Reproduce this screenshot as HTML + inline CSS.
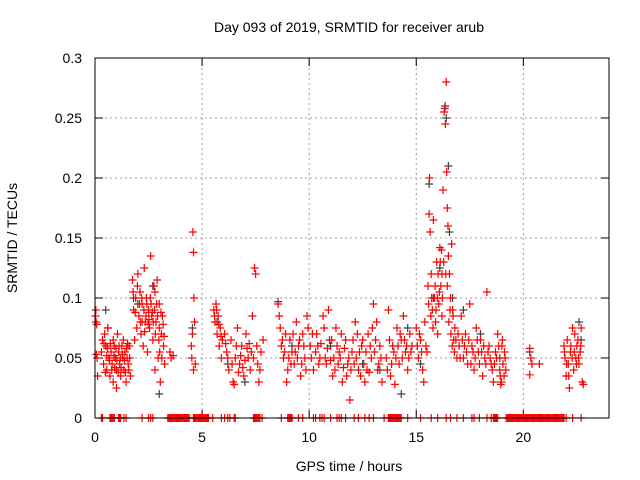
<!DOCTYPE html>
<html><head><meta charset="utf-8"><style>
body{margin:0;background:#fff;}
svg{display:block;font-family:"Liberation Sans",sans-serif;}
</style></head><body>
<svg id="c" width="640" height="480"></svg>
<script>
const redT=[0.02,0.05,0.08,0.1,0.12,0.06,
0.35,0.4,0.45,0.5,0.55,0.6,0.65,0.7,0.75,0.8,0.85,0.9,0.95,1.0,1.05,1.1,1.15,1.2,1.25,1.3,1.35,1.4,1.45,1.5,1.55,1.6,1.65,0.85,1.0,0.55,
1.75,1.8,1.85,1.9,1.95,2.0,2.05,2.1,2.15,2.2,2.25,2.3,2.35,2.4,2.45,2.5,2.55,2.6,2.65,2.7,2.75,2.8,2.85,2.9,2.95,3.0,3.05,3.1,3.15,3.2,3.25,2.2,2.5,2.8,3.0,
3.5,3.55,3.65,
4.5,4.52,4.55,4.57,4.6,4.62,4.65,4.68,4.6,
5.55,5.6,5.65,5.7,5.75,5.8,5.85,5.9,5.95,
6.05,6.15,6.25,6.35,6.45,6.55,6.65,6.75,6.85,6.95,7.05,7.15,7.25,7.35,7.45,7.5,7.55,7.6,7.65,7.75,7.85,6.5,7.1,
8.55,8.6,8.65,8.7,8.8,8.9,9.0,9.1,9.2,9.3,9.4,9.5,9.6,9.7,9.8,9.9,8.95,9.35,
10.05,10.2,10.35,10.5,10.65,10.8,10.95,11.1,11.25,11.4,11.55,11.7,11.8,11.9,12.0,12.15,12.3,12.45,12.6,12.75,12.9,13.0,13.1,13.25,13.4,10.4,10.9,11.5,12.2,12.8,
13.6,13.7,13.8,13.9,14.0,14.1,14.2,14.3,14.4,14.5,14.6,14.7,14.8,14.05,
15.0,15.1,15.2,15.3,15.4,15.5,15.35,
15.55,15.6,15.62,15.65,15.7,15.75,15.8,15.85,15.9,15.95,16.0,16.05,16.1,16.15,16.2,16.25,16.3,16.33,16.36,16.4,16.42,16.45,16.48,16.5,16.55,16.6,16.65,16.7,16.75,16.8,16.2,16.45,
17.0,17.1,17.2,17.3,17.4,17.5,17.6,17.7,17.8,17.9,18.0,18.1,18.2,18.3,18.4,18.5,18.6,18.7,18.8,18.9,19.0,19.1,19.15,17.55,18.95,
20.3,20.35,20.4,20.3,20.75,
21.9,21.95,22.0,22.05,22.1,22.15,22.2,22.3,22.35,22.4,22.45,22.5,22.55,22.6,22.65,22.7,22.75,22.8,
0.04,0.3,0.42,0.48,0.58,0.68,0.72,0.78,0.88,0.92,0.98,1.02,1.08,1.12,1.18,1.22,1.28,1.32,1.38,1.42,1.48,1.52,1.58,1.62,
1.78,1.88,1.98,2.08,2.12,2.18,2.28,2.32,2.38,2.42,2.48,2.52,2.58,2.62,2.68,2.72,2.78,2.82,2.88,2.92,2.98,3.02,3.08,3.12,3.18,3.22,
5.58,5.68,5.78,5.88,6.1,6.2,6.4,6.6,6.7,6.8,6.9,7.0,7.2,7.3,7.4,7.7,
8.75,8.85,9.05,9.15,9.25,9.45,9.55,9.65,9.75,9.85,9.95,
10.1,10.15,10.3,10.45,10.55,10.7,10.75,10.85,11.0,11.05,11.15,11.2,11.3,11.35,11.45,11.6,11.65,11.75,11.85,11.95,12.05,12.1,12.25,12.35,12.4,12.5,12.55,12.65,12.7,12.85,12.95,13.05,13.15,13.2,13.3,13.35,
13.65,13.75,13.85,13.95,14.15,14.25,14.35,14.45,14.55,14.65,14.75,15.05,15.15,15.25,15.45,
15.58,15.68,15.72,15.78,15.88,15.92,15.98,16.02,16.08,16.12,16.18,16.22,16.28,16.38,16.52,16.58,16.62,16.68,16.72,16.78,16.85,16.9,16.95,
17.05,17.15,17.25,17.35,17.45,17.65,17.75,17.85,17.95,18.05,18.15,18.25,18.35,18.45,18.55,18.65,18.75,18.85,18.92,19.05,19.12,19.18,18.98,19.02,
21.92,22.02,22.12,22.22,22.28,22.38,22.48,22.58,22.68];
const redV=[.085,.08,.078,.05,.035,.053,
.065,.045,.07,.06,.04,.075,.05,.035,.055,.045,.03,.06,.05,.04,.07,.055,.045,.035,.06,.05,.04,.055,.03,.05,.045,.06,.035,.065,.025,.052,
.115,.09,.065,.1,.075,.12,.085,.105,.07,.095,.06,.125,.08,.1,.055,.09,.075,.135,.085,.065,.11,.04,.08,.115,.05,.095,.03,.07,.085,.06,.045,.08,.088,.105,.075,
.055,.05,.052,
.06,.05,.07,.155,.138,.1,.08,.045,.04,
.09,.08,.095,.07,.085,.06,.075,.05,.065,
.07,.055,.04,.065,.03,.05,.075,.045,.06,.035,.07,.05,.04,.085,.125,.12,.06,.045,.03,.055,.065,.028,.058,
.095,.085,.075,.06,.05,.07,.04,.065,.055,.045,.08,.06,.035,.07,.05,.085,.03,.055,
.06,.04,.07,.05,.085,.045,.065,.035,.075,.055,.03,.065,.045,.015,.055,.08,.04,.06,.03,.07,.05,.095,.065,.045,.03,.06,.09,.07,.05,.038,
.05,.09,.035,.06,.028,.075,.045,.065,.085,.055,.04,.07,.06,.05,
.075,.05,.065,.04,.08,.055,.03,
.11,.17,.2,.155,.12,.09,.165,.1,.08,.13,.07,.095,.142,.11,.085,.19,.255,.258,.245,.28,.205,.175,.16,.135,.12,.1,.145,.09,.065,.075,.12,.11,
.06,.085,.05,.07,.045,.095,.06,.04,.075,.055,.065,.035,.05,.105,.06,.045,.03,.055,.07,.04,.06,.035,.05,.045,.028,
.058,.05,.045,.036,.045,
.06,.05,.035,.065,.045,.025,.055,.075,.04,.07,.05,.06,.065,.045,.055,.075,.03,.028,
.09,.055,.062,.038,.058,.048,.062,.04,.052,.042,.058,.048,.038,.06,.05,.042,.053,.065,.048,.038,.058,.062,.04,.05,
.105,.088,.11,.095,.08,.1,.09,.072,.085,.095,.078,.082,.1,.095,.088,.08,.09,.07,.095,.085,.065,.055,.088,.05,.078,.068,
.085,.09,.078,.068,.062,.05,.045,.06,.038,.052,.042,.048,.062,.055,.05,.04,
.065,.055,.05,.045,.07,.05,.065,.045,.06,.04,.075,
.05,.07,.055,.045,.062,.075,.05,.058,.048,.065,.05,.04,.06,.045,.05,.042,.058,.035,.05,.04,.065,.045,.07,.055,.035,.065,.045,.055,.04,.06,.075,.055,.08,.04,.06,.05,
.04,.065,.045,.055,.06,.07,.05,.065,.06,.05,.055,.06,.07,.055,.06,
.095,.085,.1,.075,.11,.09,.1,.12,.105,.13,.14,.1,.13,.12,.08,.09,.07,.06,.085,.055,.065,.05,.07,
.05,.065,.06,.055,.065,.055,.05,.065,.045,.055,.06,.045,.055,.05,.04,.045,.05,.06,.035,.045,.055,.04,.03,.065,
.055,.045,.035,.06,.05,.055,.045,.05,.06];
const greyT=[0.5,0.6,1.8,2.0,2.7,3.0,4.55,5.7,6.2,7.0,8.55,9.2,11.0,12.5,13.3,14.3,14.6,15.2,15.6,15.8,16.1,16.35,16.4,16.5,16.55,16.7,17.2,18.0,18.9,20.3,22.6,22.7];
const greyV=[.09,.075,.1,.095,.11,.02,.075,.08,.045,.03,.097,.06,.06,.045,.04,.02,.075,.045,.195,.1,.125,.26,.25,.21,.155,.1,.09,.07,.05,.055,.08,.065];
const zeroT=[0.3,0.35,0.7,0.75,0.8,0.85,0.9,1.1,1.15,1.2,1.35,1.45,2.2,2.5,2.6,2.7,3.4,3.45,3.5,3.55,3.6,3.65,3.7,3.75,3.8,3.85,3.9,3.95,4.0,4.05,4.1,4.15,4.2,4.25,4.3,4.35,4.4,4.6,4.65,4.7,4.75,4.8,4.85,4.9,4.95,5.0,5.05,5.1,5.15,5.2,5.25,5.3,5.5,5.9,6.05,6.2,6.3,6.5,6.55,7.4,7.45,7.5,7.55,7.6,7.65,7.7,7.8,8.7,9.0,9.05,9.1,9.15,9.2,9.5,9.7,10.2,10.3,10.5,10.6,10.7,11.0,11.3,11.4,11.5,11.7,12.1,12.3,12.6,12.8,13.0,13.5,13.7,13.75,13.8,13.85,13.9,13.95,14.0,14.05,14.1,14.15,14.2,14.25,14.3,14.6,15.2,15.7,16.0,16.4,16.6,16.9,17.2,17.6,17.7,17.95,18.3,18.5,18.6,18.65,18.7,18.75,18.8,19.2,19.25,19.3,19.35,19.4,19.45,19.5,19.55,19.6,19.65,19.7,19.75,19.8,19.85,19.9,19.95,20.0,20.05,20.1,20.15,20.2,20.25,20.3,20.35,20.4,20.45,20.5,20.55,20.6,20.65,20.7,20.75,20.8,20.85,20.9,20.95,21.0,21.05,21.1,21.15,21.2,21.25,21.3,21.35,21.4,21.45,21.5,21.55,21.6,21.65,21.7,21.75,21.8,21.85,21.9,22.0,22.3,22.7];
const xTicks=[0,5,10,15,20];
const yTicks=[0,0.05,0.1,0.15,0.2,0.25,0.3];
const yLabels=["0","0.05","0.1","0.15","0.2","0.25","0.3"];

const L=95,R=609,T=58,B=418;
const X=t=>L+(t/24)*(R-L);
const Y=v=>B-(v/0.3)*(B-T);
const svg=document.getElementById('c');
const NS='http://www.w3.org/2000/svg';
function mk(tag,a,p){const e=document.createElementNS(NS,tag);for(const k in a)e.setAttribute(k,a[k]);(p||svg).appendChild(e);return e;}

mk('rect',{x:0,y:0,width:640,height:480,fill:'#fff'});
xTicks.forEach(t=>{if(t>0){const g=mk('line',{x1:X(t),x2:X(t),y1:T,y2:B,stroke:'#a0a0a0','stroke-dasharray':'2,3'});

}});
yTicks.forEach(v=>{if(v>0&&v<0.3){const g=mk('line',{x1:L,x2:R,y1:Y(v),y2:Y(v),stroke:'#a0a0a0','stroke-dasharray':'2,3'});

}});
yTicks.forEach((v,i)=>{
 mk('line',{x1:L,x2:L+8,y1:Y(v),y2:Y(v),stroke:'#000'});
 mk('line',{x1:R,x2:R-8,y1:Y(v),y2:Y(v),stroke:'#000'});
 const tx=mk('text',{x:L-13,y:Y(v)+5,'text-anchor':'end','font-size':14,fill:'#000'});tx.textContent=yLabels[i];
 
 
});
xTicks.forEach(t=>{
 mk('line',{x1:X(t),x2:X(t),y1:B,y2:B-8,stroke:'#000'});
 mk('line',{x1:X(t),x2:X(t),y1:T,y2:T+8,stroke:'#000'});
 const tx=mk('text',{x:X(t),y:B+24,'text-anchor':'middle','font-size':14,fill:'#000'});tx.textContent=String(t);
 
 
});
function plus(t,v,c,name){
 const x=X(t),y=Y(v);
 const p=mk('path',{d:`M${x-4},${y}h8M${x},${y-4}v8`,stroke:c,'stroke-width':1.2,fill:'none'});
 
 
}
greyT.forEach((t,i)=>plus(t,greyV[i],'#404040','grey-point'));
redT.forEach((t,i)=>plus(t,redV[i],'#ff0000','red-point'));
zeroT.forEach(t=>plus(t,0,'#ff0000','zero-point'));
const br=mk('rect',{x:L,y:T,width:R-L,height:B-T,fill:'none',stroke:'#000','stroke-width':1});


const ti=mk('text',{x:349,y:32,'text-anchor':'middle','font-size':14,fill:'#000'});ti.textContent='Day 093 of 2019, SRMTID for receiver arub';


const xl=mk('text',{x:349,y:471,'text-anchor':'middle','font-size':14,fill:'#000'});xl.textContent='GPS time / hours';


const yl=mk('text',{x:17,y:238,'text-anchor':'middle','font-size':14,fill:'#000',transform:'rotate(-90 17 238)'});yl.textContent='SRMTID / TECUs';


</script>
</body></html>
